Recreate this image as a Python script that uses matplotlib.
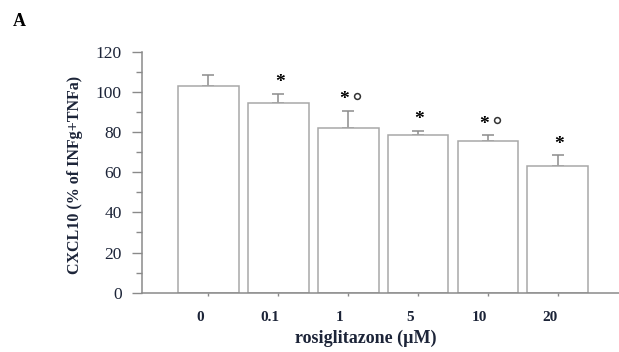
import matplotlib
matplotlib.use('Agg')
import matplotlib.pyplot as plt
import matplotlib.transforms as mtransforms
from matplotlib.ticker import MultipleLocator
import numpy as np

# CXCL10 secretion vs rosiglitazone dose
doses = ['0', '0.1', '1', '5', '10', '20']
cxcl10 = [103, 94.5, 82, 78.5, 75.5, 63]
sem = [5.5, 4.5, 8.5, 2, 3, 5.5]
star = [False, True, True, True, True, True]
circle = [False, False, True, False, True, False]

plt.rcParams['font.family'] = ['Liberation Serif', 'DejaVu Serif']
text_col = '#1c2438'
line_col = '#8a8a8a'

fig = plt.figure(figsize=(6.19, 3.52), dpi=100)
ax = fig.add_axes([0.2294, 0.1685, 0.7706, 0.6846])

x = np.arange(len(doses))
ax.bar(x, cxcl10, width=0.87, color='white', edgecolor='#a8a8a8', linewidth=1.1, zorder=2)
ax.errorbar(x, cxcl10, yerr=[np.zeros(len(sem)), sem], fmt='none', ecolor='#8c8c8c',
            elinewidth=1.1, capsize=4, capthick=1.1, zorder=1)

# significance marks above the error bars
for xi, v, e, s, c in zip(x, cxcl10, sem, star, circle):
    top = v + e + 5.5
    if s:
        ax.text(xi + (-0.06 if c else 0.02), top, '*', ha='center', va='center',
                fontsize=14, fontweight='bold', color='black')
    if c:
        ax.plot(xi + 0.13, top + 1.8, marker='o', markersize=4.2, markerfacecolor='white',
                markeredgecolor='#333333', markeredgewidth=1.1, linestyle='none')

ax.set_xlim(-0.948, 5.875)
ax.set_ylim(0, 120)
ax.yaxis.set_major_locator(MultipleLocator(20))
ax.yaxis.set_minor_locator(MultipleLocator(10))

for side in ['top', 'right']:
    ax.spines[side].set_visible(False)
for side in ['left', 'bottom']:
    ax.spines[side].set_color(line_col)
    ax.spines[side].set_linewidth(1.1)
ax.spines['left'].set_bounds(0, 120)

ax.tick_params(axis='y', which='major', length=7.5, width=1, color=line_col,
               labelsize=12.5, labelcolor=text_col, pad=7)
ax.tick_params(axis='y', which='minor', length=4, width=1, color=line_col)
ax.tick_params(axis='x', length=2.5, width=1, color=line_col,
               labelsize=11, labelcolor=text_col, pad=11)

ax.set_xticks(x)
ax.set_xticklabels(doses, fontweight='bold')
shift = mtransforms.ScaledTranslation(-8 / 100, 0, fig.dpi_scale_trans)
for lab in ax.get_xticklabels():
    lab.set_transform(lab.get_transform() + shift)

ax.set_xlabel('rosiglitazone (\u00b5M)', fontsize=13, fontweight='bold', color=text_col)
ax.xaxis.set_label_coords(0.470, -0.155)
ax.set_ylabel('CXCL10 (% of INFg+TNFa)', fontsize=11.5, fontweight='bold', color=text_col)
ax.yaxis.set_label_coords(-0.124, 0.49)

fig.text(0.021, 0.963, 'A', fontsize=13, fontweight='bold', color='black', va='top')

fig.savefig('out.png', dpi=100)
